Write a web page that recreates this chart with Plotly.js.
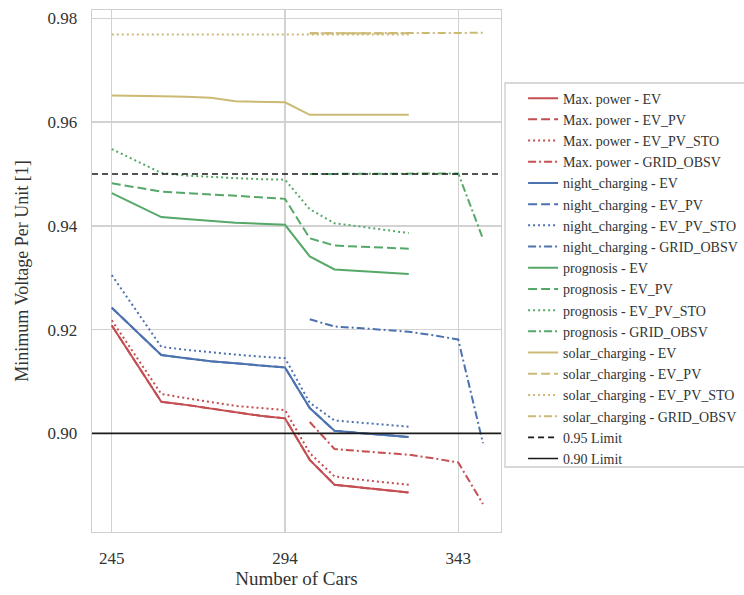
<!DOCTYPE html>
<html>
<head>
<meta charset="utf-8">
<script src="https://cdn.plot.ly/plotly-3.0.1.min.js"></script>
<style>html,body{margin:0;padding:0;background:#fff;}#chart{width:744px;height:595px;}</style>
</head>
<body>
<div id="chart"></div>
<script>
// ---- data ----
const carsMain = [245, 252, 259, 266, 273, 280, 287, 294, 301, 308, 315, 322, 329];
const carsLate = [301, 308, 315, 322, 329];
const carsGrid = [301, 308, 315, 322, 329, 336, 343, 350];

const maxPowerEV       = [0.9208, 0.9134, 0.9061, 0.9055, 0.9048, 0.9040, 0.9034, 0.9029, 0.8949, 0.8901, 0.8896, 0.8891, 0.8886];
const maxPowerEV_PV    = [0.9208, 0.9134, 0.9061, 0.9055, 0.9048, 0.9040, 0.9034, 0.9029, 0.8949, 0.8901, 0.8896, 0.8891, 0.8886];
const maxPowerEV_PV_STO= [0.9218, 0.9147, 0.9076, 0.9068, 0.9060, 0.9053, 0.9049, 0.9045, 0.8962, 0.8917, 0.8911, 0.8906, 0.8901];
const maxPowerGRID     = [0.9022, 0.8970, 0.8966, 0.8962, 0.8959, 0.8952, 0.8944, 0.8864];

const nightEV          = [0.9242, 0.9196, 0.9151, 0.9145, 0.9139, 0.9135, 0.9131, 0.9127, 0.9049, 0.9005, 0.9001, 0.8997, 0.8993];
const nightEV_PV       = [0.9242, 0.9196, 0.9151, 0.9145, 0.9139, 0.9135, 0.9131, 0.9127, 0.9049, 0.9005, 0.9001, 0.8997, 0.8993];
const nightEV_PV_STO   = [0.9305, 0.9236, 0.9167, 0.9161, 0.9156, 0.9152, 0.9148, 0.9145, 0.9059, 0.9025, 0.9021, 0.9017, 0.9013];
const nightGRID        = [0.9220, 0.9206, 0.9203, 0.9200, 0.9196, 0.9189, 0.9181, 0.8981];

const progEV           = [0.9463, 0.9440, 0.9417, 0.9413, 0.9409, 0.9406, 0.9404, 0.9402, 0.9341, 0.9316, 0.9313, 0.9310, 0.9307];
const progEV_PV        = [0.9482, 0.9474, 0.9466, 0.9463, 0.9461, 0.9458, 0.9455, 0.9452, 0.9376, 0.9362, 0.9360, 0.9358, 0.9356];
const progEV_PV_STO    = [0.9548, 0.9525, 0.9502, 0.9497, 0.9494, 0.9492, 0.9490, 0.9489, 0.9432, 0.9405, 0.9399, 0.9392, 0.9386];
const progGRID         = [0.9500, 0.9500, 0.9501, 0.9501, 0.9501, 0.9501, 0.9501, 0.9375];

const solarEV          = [0.9651, 0.9651, 0.9650, 0.9649, 0.9647, 0.9640, 0.9639, 0.9638, 0.9614, 0.9614, 0.9614, 0.9614, 0.9614];
const solarEV_PV       = [0.9771, 0.9771, 0.9771, 0.9771, 0.9771];
const solarEV_PV_STO   = [0.9769, 0.9769, 0.9769, 0.9769, 0.9769, 0.9769, 0.9769, 0.9769, 0.9769, 0.9769, 0.9769, 0.9769, 0.9769];
const solarGRID        = [0.9771, 0.9771, 0.9771, 0.9772, 0.9772, 0.9772, 0.9772, 0.9772];

const limit95 = 0.95;
const limit90 = 0.90;
const xRange = [239.4, 355.1];
const yRange = [0.881, 0.9816];
const xTicks = [245, 294, 343];
const yTicks = [0.90, 0.92, 0.94, 0.96, 0.98];

// ---- styling ----
const C = {red: '#C44E52', blue: '#4C72B0', green: '#55A868', yellow: '#CCB974', black: '#1a1a1a'};
const D = {solid: 'solid', dash: '9px,4px', dot: '2px,3px', dashdot: '8px,3px,2px,3px'};
const W = 2;
function tr(name, x, y, color, dash) {
  return {type: 'scatter', mode: 'lines', name: name, x: x, y: y,
          line: {color: color, dash: dash, width: W}, hoverinfo: 'skip'};
}

const traces = [
  tr('Max. power - EV', carsMain, maxPowerEV, C.red, D.solid),
  tr('Max. power - EV_PV', carsMain, maxPowerEV_PV, C.red, D.dash),
  tr('Max. power - EV_PV_STO', carsMain, maxPowerEV_PV_STO, C.red, D.dot),
  tr('Max. power - GRID_OBSV', carsGrid, maxPowerGRID, C.red, D.dashdot),
  tr('night_charging - EV', carsMain, nightEV, C.blue, D.solid),
  tr('night_charging - EV_PV', carsMain, nightEV_PV, C.blue, D.dash),
  tr('night_charging - EV_PV_STO', carsMain, nightEV_PV_STO, C.blue, D.dot),
  tr('night_charging - GRID_OBSV', carsGrid, nightGRID, C.blue, D.dashdot),
  tr('prognosis - EV', carsMain, progEV, C.green, D.solid),
  tr('prognosis - EV_PV', carsMain, progEV_PV, C.green, D.dash),
  tr('prognosis - EV_PV_STO', carsMain, progEV_PV_STO, C.green, D.dot),
  tr('prognosis - GRID_OBSV', carsGrid, progGRID, C.green, D.dashdot),
  tr('solar_charging - EV', carsMain, solarEV, C.yellow, D.solid),
  tr('solar_charging - EV_PV', carsLate, solarEV_PV, C.yellow, D.dash),
  tr('solar_charging - EV_PV_STO', carsMain, solarEV_PV_STO, C.yellow, D.dot),
  tr('solar_charging - GRID_OBSV', carsGrid, solarGRID, C.yellow, D.dashdot),
  tr('0.95 Limit', xRange, [limit95, limit95], C.black, '6px,4px'),
  tr('0.90 Limit', xRange, [limit90, limit90], C.black, D.solid)
];
traces[16].line.width = 1.6;
traces[17].line.width = 1.6;

const font = "'Liberation Serif', 'Times New Roman', serif";
const txt = '#333333';

const layout = {
  width: 744, height: 595,
  margin: {l: 92, r: 243, t: 10, b: 63, pad: 0, autoexpand: false},
  paper_bgcolor: '#ffffff', plot_bgcolor: '#ffffff',
  font: {family: font, color: txt, size: 17},
  showlegend: true,
  legend: {
    x: 1.054, y: 0.861, xanchor: 'left', yanchor: 'top',
    bgcolor: 'rgba(0,0,0,0)', borderwidth: 0,
    font: {family: font, size: 14, color: txt},
    tracegroupgap: 0, itemwidth: 30
  },
  xaxis: {
    range: xRange, tickvals: xTicks, ticktext: xTicks.map(String),
    showgrid: true, gridcolor: '#d2d2d2', gridwidth: 1.3,
    zeroline: false, showline: true, linecolor: '#cfcfcf', linewidth: 1.3, mirror: true,
    ticks: '', ticklabelstandoff: 10,
    tickfont: {family: font, size: 17, color: txt},
    title: {text: 'Number of Cars', font: {family: font, size: 19, color: txt}, standoff: 4}
  },
  yaxis: {
    range: yRange, tickvals: yTicks, tickformat: '.2f',
    showgrid: true, gridcolor: '#d2d2d2', gridwidth: 1.3,
    zeroline: false, showline: true, linecolor: '#cfcfcf', linewidth: 1.3, mirror: true,
    ticks: '', ticklabelstandoff: 10,
    tickfont: {family: font, size: 17, color: txt},
    title: {text: 'Minimum Voltage Per Unit [1]', font: {family: font, size: 18, color: txt}, standoff: 14}
  },
  shapes: [{
    type: 'rect', xref: 'paper', yref: 'paper', layer: 'below',
    x0: 1.0098, x1: 1.66, y0: (532 - 467) / 522, y1: (532 - 83) / 522,
    line: {color: '#cccccc', width: 1.3}, fillcolor: '#ffffff'
  }]
};

Plotly.newPlot('chart', traces, layout, {staticPlot: true, displayModeBar: false});
</script>
</body>
</html>
